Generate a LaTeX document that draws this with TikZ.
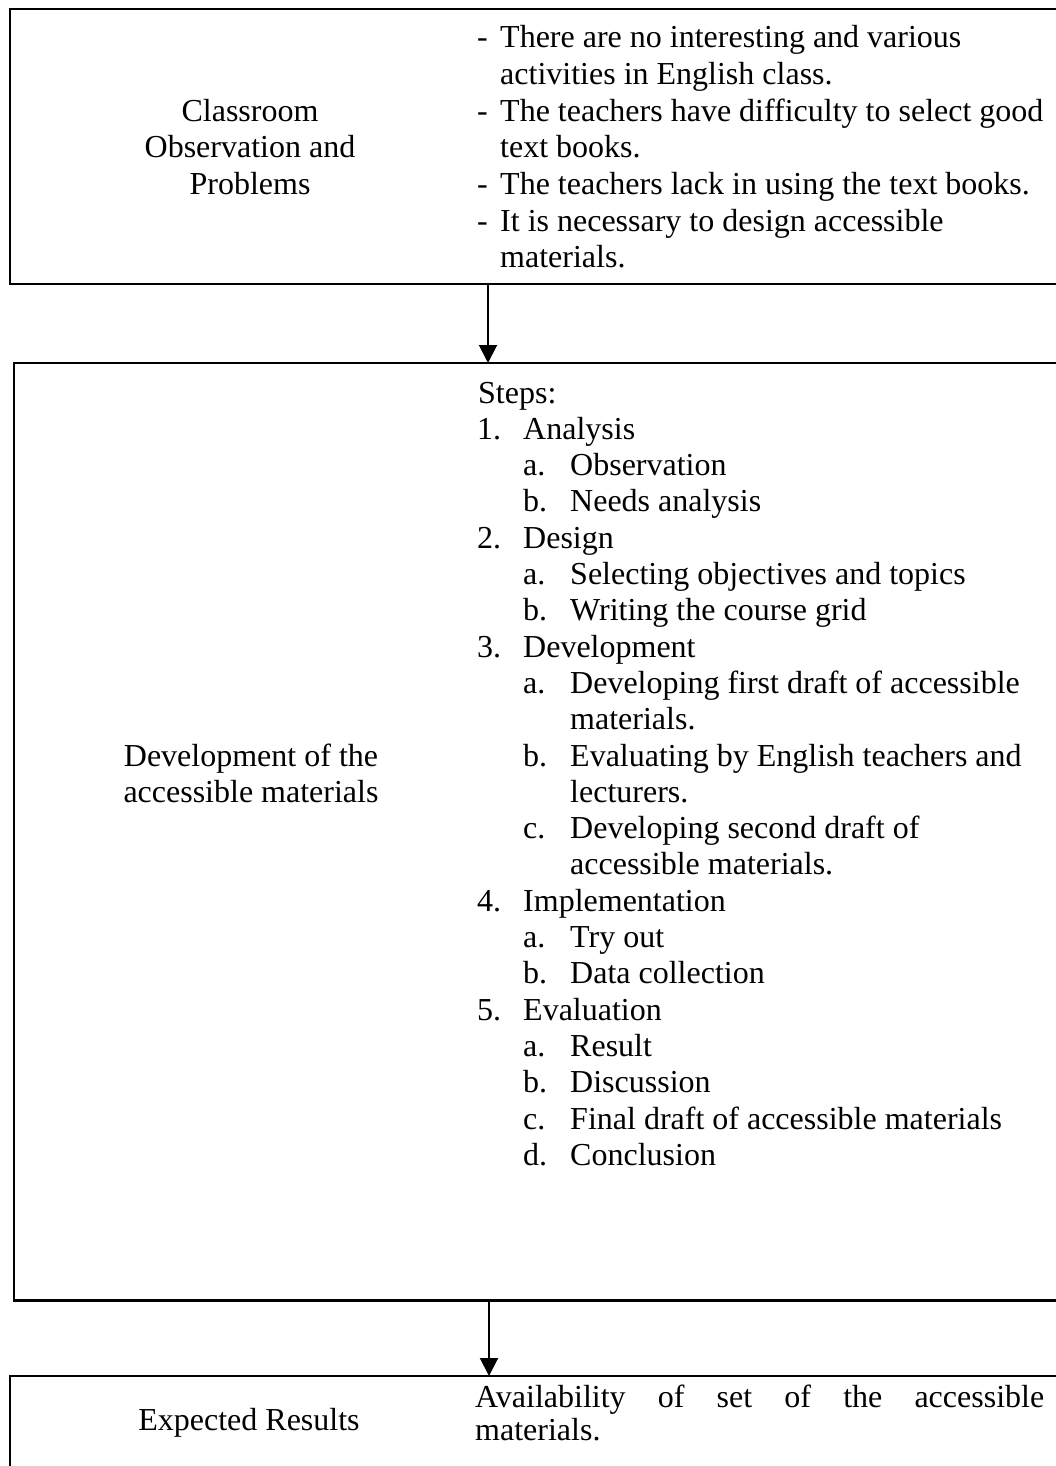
\documentclass[tikz,border=0pt]{standalone}
\usepackage{fontspec}
\setmainfont{Liberation Serif}
\usetikzlibrary{arrows.meta}
\tikzset{
  boxline/.style={draw=black, line width=2.2pt},
  txt/.style={anchor=base west, inner sep=0pt, font=\fontsize{32}{38}\selectfont},
  ctr/.style={anchor=base, inner sep=0pt, font=\fontsize{32}{38}\selectfont},
  flow/.style={line width=2pt, -{Triangle[width=18pt,length=18pt]}},
}
\begin{document}
\begin{tikzpicture}[x=1pt,y=-1pt]
\useasboundingbox (0,0) rectangle (1056,1466);
\clip (0,0) rectangle (1056,1466);
\fill[white] (0,0) rectangle (1056,1466);
% boxes
\draw[boxline] (10,9) rectangle (1080,284);
\draw[boxline] (14,363) rectangle (1080,1300.5);
\draw[boxline] (10,1376) rectangle (1080,1490);
\coordinate (b1s) at (488,284);
\coordinate (b2n) at (488,363);
\coordinate (b2s) at (489,1300.5);
\coordinate (b3n) at (489,1376);
\draw[flow] (b1s) -- (b2n);
\draw[flow] (b2s) -- (b3n);
% box 1
\node[ctr] (c1) at (250,122) {Classroom};
\node[ctr] (c2) at (250,158) {Observation and};
\node[ctr] (c3) at (250,195) {Problems};
\node[txt] (d1) at (477,48) {-};
\node[txt] (p1) at (500,48) {There are no interesting and various};
\node[txt] (p2) at (500,85) {activities in English class.};
\node[txt] (d3) at (477,122) {-};
\node[txt] (p3) at (500,122) {The teachers have difficulty to select good};
\node[txt] (p4) at (500,158) {text books.};
\node[txt] (d5) at (477,195) {-};
\node[txt] (p5) at (500,195) {The teachers lack in using the text books.};
\node[txt] (d6) at (477,231) {-};
\node[txt] (p6) at (500,231) {It is necessary to design accessible};
\node[txt] (p7) at (500,267) {materials.};
% box 2
\node[ctr] (m1) at (251,766) {Development of the};
\node[ctr] (m2) at (251,802.3) {accessible materials};
\node[txt] (s0) at (478,403) {Steps:};
\node[txt] (s1n) at (477,439.3) {1.};
\node[txt] (s1) at (523,439.3) {Analysis};
\node[txt] (s2n) at (523,475.6) {a.};
\node[txt] (s2) at (570,475.6) {Observation};
\node[txt] (s3n) at (523,511.9) {b.};
\node[txt] (s3) at (570,511.9) {Needs analysis};
\node[txt] (s4n) at (477,548.2) {2.};
\node[txt] (s4) at (523,548.2) {Design};
\node[txt] (s5n) at (523,584.5) {a.};
\node[txt] (s5) at (570,584.5) {Selecting objectives and topics};
\node[txt] (s6n) at (523,620.8) {b.};
\node[txt] (s6) at (570,620.8) {Writing the course grid};
\node[txt] (s7n) at (477,657.1) {3.};
\node[txt] (s7) at (523,657.1) {Development};
\node[txt] (s8n) at (523,693.4) {a.};
\node[txt] (s8) at (570,693.4) {Developing first draft of accessible};
\node[txt] (s9) at (570,729.7) {materials.};
\node[txt] (s10n) at (523,766) {b.};
\node[txt] (s10) at (570,766) {Evaluating by English teachers and};
\node[txt] (s11) at (570,802.3) {lecturers.};
\node[txt] (s12n) at (523,838.6) {c.};
\node[txt] (s12) at (570,838.6) {Developing second draft of};
\node[txt] (s13) at (570,874.9) {accessible materials.};
\node[txt] (s14n) at (477,911.2) {4.};
\node[txt] (s14) at (523,911.2) {Implementation};
\node[txt] (s15n) at (523,947.5) {a.};
\node[txt] (s15) at (570,947.5) {Try out};
\node[txt] (s16n) at (523,983.8) {b.};
\node[txt] (s16) at (570,983.8) {Data collection};
\node[txt] (s17n) at (477,1020.1) {5.};
\node[txt] (s17) at (523,1020.1) {Evaluation};
\node[txt] (s18n) at (523,1056.4) {a.};
\node[txt] (s18) at (570,1056.4) {Result};
\node[txt] (s19n) at (523,1092.7) {b.};
\node[txt] (s19) at (570,1092.7) {Discussion};
\node[txt] (s20n) at (523,1129) {c.};
\node[txt] (s20) at (570,1129) {Final draft of accessible materials};
\node[txt] (s21n) at (523,1165.3) {d.};
\node[txt] (s21) at (570,1165.3) {Conclusion};
% box 3
\node[ctr] (e1) at (249,1430) {Expected Results};
\node[txt] (r1) at (475,1407) {\makebox[569pt][s]{Availability\hfill of\hfill set\hfill of\hfill the\hfill accessible}};
\node[txt] (r2) at (475,1440) {materials.};
\end{tikzpicture}
\end{document}
